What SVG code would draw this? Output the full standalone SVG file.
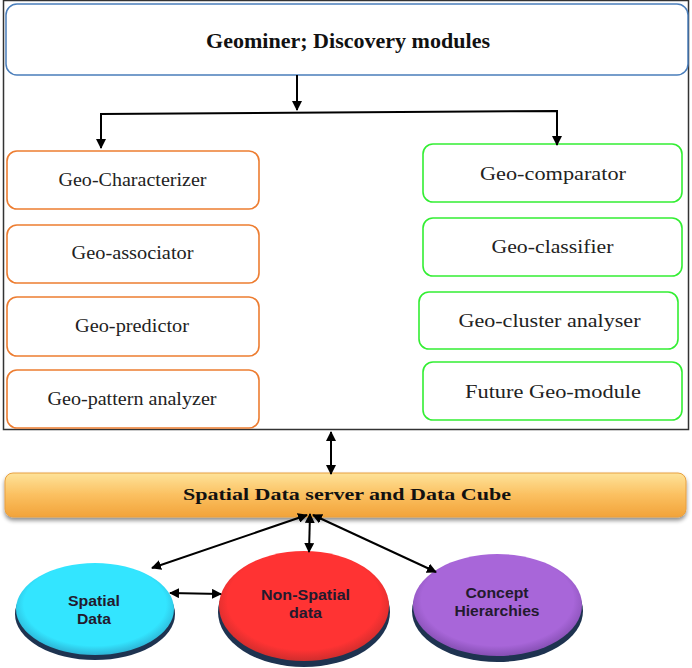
<svg xmlns="http://www.w3.org/2000/svg" width="692" height="668" viewBox="0 0 692 668">
<style>
.mod{fill:#fff;stroke-width:1.6}
.or{stroke:#ED7D31}
.gr{stroke:#33EE33}
.t{font-family:"Liberation Serif",serif;font-size:18.5px;fill:#222;text-anchor:middle}
.tb{font-family:"Liberation Serif",serif;font-weight:bold;fill:#111;text-anchor:middle}
.et{font-family:"Liberation Sans",Arial,sans-serif;font-weight:bold;font-size:14px;fill:#231a2e;text-anchor:middle}
.c{stroke:#000;stroke-width:2;fill:none}
</style>
<defs>
<marker id="ah" viewBox="0 0 10 10" refX="9" refY="5" markerWidth="5" markerHeight="5" orient="auto-start-reverse" markerUnits="strokeWidth">
<path d="M0,0 L10,5 L0,10 z" fill="#000"/>
</marker>
<linearGradient id="bar" x1="0" y1="0" x2="0" y2="1">
<stop offset="0" stop-color="#FEE39A"/>
<stop offset="0.5" stop-color="#FBC060"/>
<stop offset="1" stop-color="#F2A33A"/>
</linearGradient>
<radialGradient id="cy" cx="0.5" cy="0.45" r="0.6">
<stop offset="0.75" stop-color="#33E5FF"/>
<stop offset="1" stop-color="#2A9ABF"/>
</radialGradient>
<radialGradient id="rd" cx="0.5" cy="0.45" r="0.6">
<stop offset="0.75" stop-color="#FF3333"/>
<stop offset="1" stop-color="#B82A2A"/>
</radialGradient>
<radialGradient id="pu" cx="0.5" cy="0.45" r="0.6">
<stop offset="0.75" stop-color="#A866D9"/>
<stop offset="1" stop-color="#7443A0"/>
</radialGradient>
<filter id="sh" x="-10%" y="-20%" width="120%" height="160%">
<feGaussianBlur in="SourceAlpha" stdDeviation="2"/>
<feOffset dy="3"/>
<feComponentTransfer><feFuncA type="linear" slope="0.45"/></feComponentTransfer>
<feMerge><feMergeNode/><feMergeNode in="SourceGraphic"/></feMerge>
</filter>
</defs>
<rect width="692" height="668" fill="#fff"/>
<rect id="frame" x="3.5" y="0.5" width="685" height="429" fill="none" stroke="#333" stroke-width="1.5"/>

<g id="top">
<rect x="6" y="4" width="682" height="71" rx="11" fill="#fff" stroke="#4A7EBB" stroke-width="1.5"/>
<text class="tb" x="348" y="48" font-size="20" textLength="284" lengthAdjust="spacingAndGlyphs">Geominer; Discovery modules</text>
</g>

<g id="n1"><rect class="mod or" x="7" y="151" width="252" height="58" rx="10"/><text class="t" x="132.5" y="186" textLength="148" lengthAdjust="spacingAndGlyphs">Geo-Characterizer</text></g>
<g id="n2"><rect class="mod or" x="7" y="225" width="252" height="58" rx="10"/><text class="t" x="132.5" y="259" textLength="122" lengthAdjust="spacingAndGlyphs">Geo-associator</text></g>
<g id="n3"><rect class="mod or" x="7" y="297" width="252" height="59" rx="10"/><text class="t" x="132" y="332" textLength="114" lengthAdjust="spacingAndGlyphs">Geo-predictor</text></g>
<g id="n4"><rect class="mod or" x="7" y="370" width="252" height="58" rx="10"/><text class="t" x="132" y="405" textLength="169" lengthAdjust="spacingAndGlyphs">Geo-pattern analyzer</text></g>

<g id="g1"><rect class="mod gr" x="423" y="144" width="259" height="58" rx="10"/><text class="t" x="553" y="180" textLength="146" lengthAdjust="spacingAndGlyphs">Geo-comparator</text></g>
<g id="g2"><rect class="mod gr" x="423" y="218" width="259" height="58" rx="10"/><text class="t" x="552.5" y="253" textLength="122" lengthAdjust="spacingAndGlyphs">Geo-classifier</text></g>
<g id="g3"><rect class="mod gr" x="419" y="292" width="259" height="57" rx="10"/><text class="t" x="549.5" y="327" textLength="182" lengthAdjust="spacingAndGlyphs">Geo-cluster analyser</text></g>
<g id="g4"><rect class="mod gr" x="423" y="362" width="259" height="58" rx="10"/><text class="t" x="553" y="398" textLength="176" lengthAdjust="spacingAndGlyphs">Future Geo-module</text></g>

<g id="server">
<rect x="5" y="473" width="681" height="44" rx="8" fill="url(#bar)" stroke="#E8A040" stroke-width="1" filter="url(#sh)"/>
<text class="tb" x="347" y="500" font-size="17" textLength="328" lengthAdjust="spacingAndGlyphs">Spatial Data server and Data Cube</text>
</g>

<g id="spatial">
<ellipse cx="95" cy="614" rx="80" ry="46" fill="#1E3350"/>
<ellipse cx="95" cy="609" rx="79" ry="46" fill="url(#cy)"/>
<text class="et" x="94" y="606" textLength="52" lengthAdjust="spacingAndGlyphs">Spatial</text>
<text class="et" x="94" y="624" textLength="34" lengthAdjust="spacingAndGlyphs">Data</text>
</g>
<g id="nonspatial">
<ellipse cx="304" cy="612" rx="86" ry="55" fill="#1E3350"/>
<ellipse cx="304" cy="606" rx="85" ry="55" fill="url(#rd)"/>
<text class="et" x="305.5" y="600" textLength="89" lengthAdjust="spacingAndGlyphs">Non-Spatial</text>
<text class="et" x="305.5" y="618" textLength="33" lengthAdjust="spacingAndGlyphs">data</text>
</g>
<g id="concept">
<ellipse cx="497.5" cy="611" rx="85.5" ry="51" fill="#1E3350"/>
<ellipse cx="497.5" cy="605" rx="84.5" ry="51" fill="url(#pu)"/>
<text class="et" x="497" y="598" textLength="63" lengthAdjust="spacingAndGlyphs">Concept</text>
<text class="et" x="497" y="616" textLength="85" lengthAdjust="spacingAndGlyphs">Hierarchies</text>
</g>

<g id="connectors">
<line class="c" x1="297" y1="75" x2="297" y2="110" marker-end="url(#ah)"/>
<polyline class="c" points="101,148 101,114 557,111 557,145" marker-start="url(#ah)" marker-end="url(#ah)"/>
<line class="c" x1="331" y1="432" x2="331" y2="474" marker-start="url(#ah)" marker-end="url(#ah)"/>
<line class="c" x1="307" y1="515" x2="152" y2="568" marker-start="url(#ah)" marker-end="url(#ah)"/>
<line class="c" x1="310" y1="514" x2="309" y2="552" marker-start="url(#ah)" marker-end="url(#ah)"/>
<line class="c" x1="313" y1="515" x2="436" y2="572" marker-start="url(#ah)" marker-end="url(#ah)"/>
<line class="c" x1="170" y1="593" x2="221" y2="594" marker-start="url(#ah)" marker-end="url(#ah)"/>
</g>
</svg>
